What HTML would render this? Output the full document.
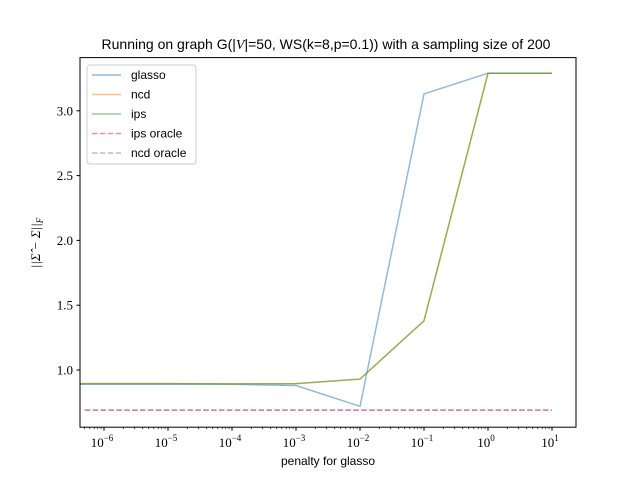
<!DOCTYPE html>
<html><head><meta charset="utf-8"><style>
body{margin:0;background:#fff;font-family:"Liberation Serif",serif}
</style></head><body>
<svg width="640" height="480" xmlns="http://www.w3.org/2000/svg">
<defs><clipPath id="c"><rect x="80" y="57.6" width="496" height="369.6"/></clipPath></defs>
<rect width="640" height="480" fill="#fff"/>
<g id="ticks"></g>
<g id="marks" clip-path="url(#c)"></g>
<rect x="80" y="57.6" width="496" height="369.6" fill="none" stroke="#000" stroke-width="1"/>
<text x="326" y="49" text-anchor="middle" font-family="Liberation Sans, sans-serif" font-size="14">Running on graph G(|<tspan font-family="Liberation Serif" font-style="italic">V</tspan>|=50, WS(k=8,p=0.1)) with a sampling size of 200</text>
<text x="328" y="465" text-anchor="middle" font-family="Liberation Sans, sans-serif" font-size="12">penalty for glasso</text>
<text transform="translate(40,243) rotate(-90)" text-anchor="middle" font-size="13" font-style="italic">||Σ̂ − Σ||<tspan font-size="9" dy="3">F</tspan></text>
<g>
<rect x="87" y="65" width="109" height="99" rx="3" fill="#fff" fill-opacity="0.8" stroke="#ccc"/>
<g id="legend" font-family="Liberation Sans, sans-serif" font-size="12"></g>
</g>
</svg>
<script>
const xs=[1e-8,1e-6,1e-5,1e-4,1e-3,1e-2,1e-1,1,10];
const glasso=[0.89,0.89,0.89,0.89,0.88,0.72,3.13,3.29,3.29];
const ncd=[0.895,0.895,0.895,0.893,0.895,0.93,1.38,3.29,3.29];
const ips=[0.895,0.895,0.895,0.893,0.895,0.93,1.38,3.29,3.29];
const oracleX=[5e-7,10];
const ipsOracle=0.69, ncdOracle=0.69;
const yTicks=[1.0,1.5,2.0,2.5,3.0];
const xTickExp=[-6,-5,-4,-3,-2,-1,0,1];
const sx=v=>104+(Math.log10(v)+6)*64;
const sy=v=>370-(v-1)*129.6;
const NS='http://www.w3.org/2000/svg';
function mk(t,a,p){const e=document.createElementNS(NS,t);for(const k in a)e.setAttribute(k,a[k]);p.appendChild(e);return e;}
const T=document.getElementById('ticks'),M=document.getElementById('marks'),L=document.getElementById('legend');
yTicks.forEach(v=>{const y=sy(v);
 const l=mk('line',{x1:76.5,x2:80,y1:y,y2:y,stroke:'#000'},T);
 
 
 const t=mk('text',{x:73,y:y+4.5,'text-anchor':'end','font-size':'13'},T);t.textContent=v.toFixed(1);
 
 });
xTickExp.forEach(e=>{const x=sx(Math.pow(10,e));
 const l=mk('line',{x1:x,x2:x,y1:427.2,y2:430.7,stroke:'#000'},T);
 
 
 const t=mk('text',{x:x-2,y:447,'text-anchor':'middle','font-size':'13'},T);
 t.innerHTML='10<tspan dy="-6" font-size="9">'+(e<0?'−'+(-e):e)+'</tspan>';
 
 
 for(let m=2;m<10;m++){const xm=sx(m*Math.pow(10,e-1));if(xm<80)continue;
  const ml=mk('line',{x1:xm,x2:xm,y1:427.2,y2:429.2,stroke:'#000','stroke-width':0.6},T);
  
  }});
function series(ys,col,name){const d=xs.map((x,i)=>(i?'L':'M')+sx(x)+','+sy(ys[i])).join('');
 const p=mk('path',{d:d,fill:'none',stroke:col,'stroke-width':1.5,'stroke-opacity':0.5},M);
 
 }
series(glasso,'#1f77b4','glasso-line');
series(ncd,'#ff7f0e','ncd-line');
series(ips,'#2ca02c','ips-line');
function hline(v,col,name){const p=mk('line',{x1:sx(oracleX[0]),x2:sx(oracleX[1]),y1:sy(v),y2:sy(v),stroke:col,'stroke-width':1.5,'stroke-opacity':0.5,'stroke-dasharray':'5.5,2.4'},M);
 
 }
hline(ipsOracle,'#d62728','ips-oracle-line');
hline(ncdOracle,'#9467bd','ncd-oracle-line');
[['glasso','#1f77b4',0],['ncd','#ff7f0e',0],['ips','#2ca02c',0],['ips oracle','#d62728',1],['ncd oracle','#9467bd',1]].forEach((e,i)=>{
 const y=75+i*19.5;
 const g=mk('g',{},L);
 
 
 const a={x1:92,x2:121,y1:y,y2:y,stroke:e[1],'stroke-width':1.5,'stroke-opacity':0.5};if(e[2])a['stroke-dasharray']='5.5,2.4';
 mk('line',a,g);
 const t=mk('text',{x:131,y:y+4},g);t.textContent=e[0];});
</script>
</body></html>
